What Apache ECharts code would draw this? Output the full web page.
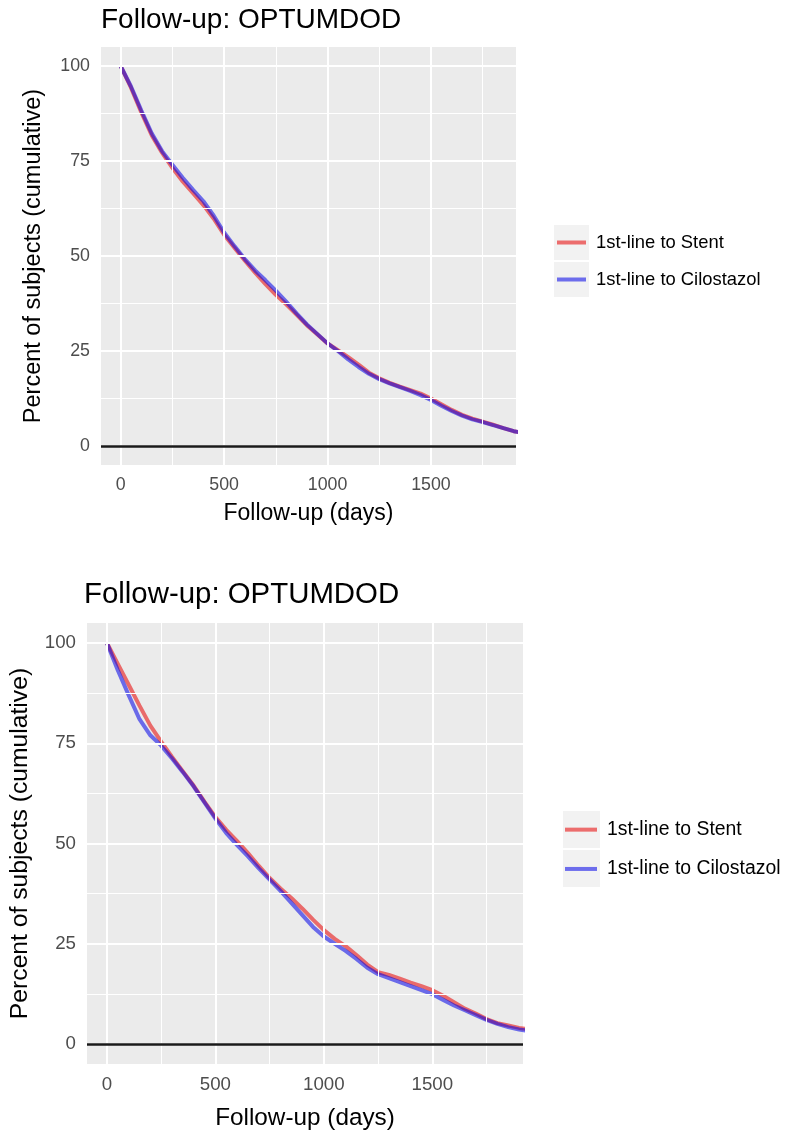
<!DOCTYPE html>
<html>
<head>
<meta charset="utf-8">
<script src="https://cdn.jsdelivr.net/npm/echarts@6/dist/echarts.min.js"></script>
<style>
  html, body { margin: 0; padding: 0; background: #fff; }
  #chart { width: 785px; height: 1131px; }
</style>
</head>
<body>
<div id="chart"></div>
<script>
// follow-up day at each sampled point
const days = [0, 50, 100, 150, 200, 250, 300, 350, 400, 450, 500, 550, 600, 650, 700, 750, 800, 850, 900, 950,
  1000, 1050, 1100, 1150, 1200, 1250, 1300, 1350, 1400, 1450, 1500, 1550, 1600, 1650, 1700, 1750, 1800, 1850, 1900, 1950]

// top panel
const stentTop = [100, 94.3, 87.8, 81.8, 77.2, 73.2, 69.6, 66.5, 63.4, 59.8, 55.6, 52.2, 48.8, 45.6, 42.6, 39.8, 37.3, 34.6, 31.8, 29.4,
  27.0, 25.2, 23.4, 21.4, 19.3, 17.8, 16.6, 15.6, 14.7, 13.8, 12.5, 11.0, 9.5, 8.2, 7.2, 6.4, 5.6, 4.7, 3.9, 3.4]
const ciloTop = [100, 94.6, 88.3, 82.3, 77.6, 74.0, 70.6, 67.4, 64.4, 60.6, 56.2, 52.6, 49.2, 46.2, 43.6, 40.9, 38.0, 34.9, 32.0, 29.5,
  27.0, 25.0, 22.8, 20.8, 19.0, 17.6, 16.5, 15.5, 14.5, 13.4, 12.1, 10.6, 9.2, 8.0, 7.0, 6.3, 5.5, 4.7, 3.9, 3.4]

// bottom panel
const stentBottom = [100, 94.8, 89.6, 84.4, 79.4, 75.4, 71.6, 68.0, 64.4, 60.4, 56.6, 53.4, 50.6, 47.6, 44.4, 41.4, 38.8, 36.4, 33.8, 31.0,
  28.4, 26.2, 24.4, 22.2, 19.8, 17.9, 17.2, 16.3, 15.3, 14.4, 13.4, 12.0, 10.4, 8.8, 7.6, 6.2, 5.2, 4.6, 4.0, 3.6]
const ciloBottom = [100, 93.2, 87.0, 81.0, 77.0, 74.4, 71.2, 67.8, 64.2, 60.2, 56.2, 52.6, 49.6, 46.8, 43.8, 41.0, 38.2, 35.2, 32.2, 29.2,
  26.8, 25.0, 23.2, 21.2, 19.0, 17.4, 16.4, 15.4, 14.4, 13.4, 12.4, 11.0, 9.6, 8.4, 7.2, 6.0, 5.0, 4.2, 3.6, 3.2]

const xTicks = [0, 500, 1000, 1500]
const xMinor = [250, 750, 1250, 1750]
const yTicks = [0, 25, 50, 75, 100]
const yMinor = [12.5, 37.5, 62.5, 87.5]

const seriesNames = ['1st-line to Stent', '1st-line to Cilostazol']
const RED = 'rgba(232,0,0,0.55)'
const BLUE = 'rgba(0,0,232,0.55)'
const FONT = '"Liberation Sans", Arial, sans-serif'

const chart = echarts.init(document.getElementById('chart'), null, { renderer: 'canvas' })

function pairs(vals) { return days.map((d, i) => [d, vals[i]]) }

function gridLines() {
  const major = { color: '#ffffff', width: 2, type: 'solid' }
  const minor = { color: '#ffffff', width: 1, type: 'solid' }
  return [
    ...xMinor.map(v => ({ xAxis: v, lineStyle: minor })),
    ...yMinor.map(v => ({ yAxis: v, lineStyle: minor })),
    ...xTicks.map(v => ({ xAxis: v, lineStyle: major })),
    ...yTicks.map(v => ({ yAxis: v, lineStyle: major })),
    { yAxis: 0, lineStyle: { color: '#1a1a1a', width: 2.5, type: 'solid' } }
  ]
}

function xAxisFor(idx, min, max, fs, nameFs, nameGap) {
  return {
    type: 'value', gridIndex: idx, min: min, max: max,
    axisLine: { show: false },
    axisTick: { show: true, customValues: xTicks, length: 5, lineStyle: { color: '#333', width: 1.5 } },
    axisLabel: { customValues: xTicks, color: '#4d4d4d', fontSize: fs, fontFamily: FONT, margin: 11,
      formatter: v => String(v) },
    splitLine: { show: false },
    name: 'Follow-up (days)', nameLocation: 'middle', nameGap: nameGap,
    nameTextStyle: { color: '#000', fontSize: nameFs, fontFamily: FONT }
  }
}

function yAxisFor(idx, fs, nameFs, nameGap) {
  return {
    type: 'value', gridIndex: idx, min: -5, max: 105,
    axisLine: { show: false },
    axisTick: { show: true, customValues: yTicks, length: 5, lineStyle: { color: '#333', width: 1.5 } },
    axisLabel: { customValues: yTicks, color: '#4d4d4d', fontSize: fs, fontFamily: FONT, margin: 11,
      formatter: v => String(v) },
    splitLine: { show: false },
    name: 'Percent of subjects (cumulative)', nameLocation: 'middle', nameGap: nameGap,
    nameTextStyle: { color: '#000', fontSize: nameFs, fontFamily: FONT }
  }
}

function lineSeries(name, color, vals, idx) {
  return {
    name: name, type: 'line', xAxisIndex: idx, yAxisIndex: idx, z: 3,
    data: pairs(vals), showSymbol: false, symbol: 'none', clip: true,
    lineStyle: { color: color, width: 4 }, itemStyle: { color: color }
  }
}

function legendFor(left, top, w, fs, lh) {
  return {
    data: seriesNames, orient: 'vertical', left: left, top: top, padding: 0,
    itemWidth: w, itemHeight: 4, itemGap: 2, icon: 'rect', selectedMode: false,
    textStyle: { color: '#000', fontSize: fs, fontFamily: FONT, lineHeight: lh, padding: [0, 0, 0, 5] }
  }
}

const option = {
  animation: false,
  backgroundColor: '#fff',
  title: [
    { text: 'Follow-up: OPTUMDOD', left: 101, top: 6, padding: 0,
      textStyle: { color: '#000', fontSize: 28, fontWeight: 'normal', fontFamily: FONT } },
    { text: 'Follow-up: OPTUMDOD', left: 84, top: 580, padding: 0,
      textStyle: { color: '#000', fontSize: 29.4, fontWeight: 'normal', fontFamily: FONT } }
  ],
  grid: [
    { left: 101, top: 47, width: 415, height: 418, show: true, backgroundColor: '#ebebeb', borderWidth: 0 },
    { left: 85, top: 623, width: 438, height: 441, show: true, backgroundColor: '#ebebeb', borderWidth: 0 }
  ],
  xAxis: [xAxisFor(0, -95, 1911, 17.8, 23, 37), xAxisFor(1, -92, 1918, 18.7, 24.3, 42)],
  yAxis: [yAxisFor(0, 17.8, 23.5, 55), yAxisFor(1, 18.7, 24.7, 54)],
  legend: [legendFor(557, 225, 29, 18.4, 35), legendFor(565, 811, 32, 19.4, 37.3)],
  graphic: [
    { type: 'rect', shape: { x: 554, y: 225, width: 35, height: 35 }, style: { fill: '#f2f2f2' }, z: 0 },
    { type: 'rect', shape: { x: 554, y: 262, width: 35, height: 35 }, style: { fill: '#f2f2f2' }, z: 0 },
    { type: 'rect', shape: { x: 563, y: 811, width: 37, height: 37 }, style: { fill: '#f2f2f2' }, z: 0 },
    { type: 'rect', shape: { x: 563, y: 850, width: 37, height: 37 }, style: { fill: '#f2f2f2' }, z: 0 }
  ],
  series: [
    { type: 'line', xAxisIndex: 0, yAxisIndex: 0, data: [], z: 1,
      markLine: { silent: true, symbol: 'none', label: { show: false }, animation: false, data: gridLines() } },
    { type: 'line', xAxisIndex: 1, yAxisIndex: 1, data: [], z: 1,
      markLine: { silent: true, symbol: 'none', label: { show: false }, animation: false, data: gridLines() } },
    lineSeries(seriesNames[0], RED, stentTop, 0),
    lineSeries(seriesNames[1], BLUE, ciloTop, 0),
    lineSeries(seriesNames[0], RED, stentBottom, 1),
    lineSeries(seriesNames[1], BLUE, ciloBottom, 1)
  ]
}

chart.setOption(option)
</script>
</body>
</html>
